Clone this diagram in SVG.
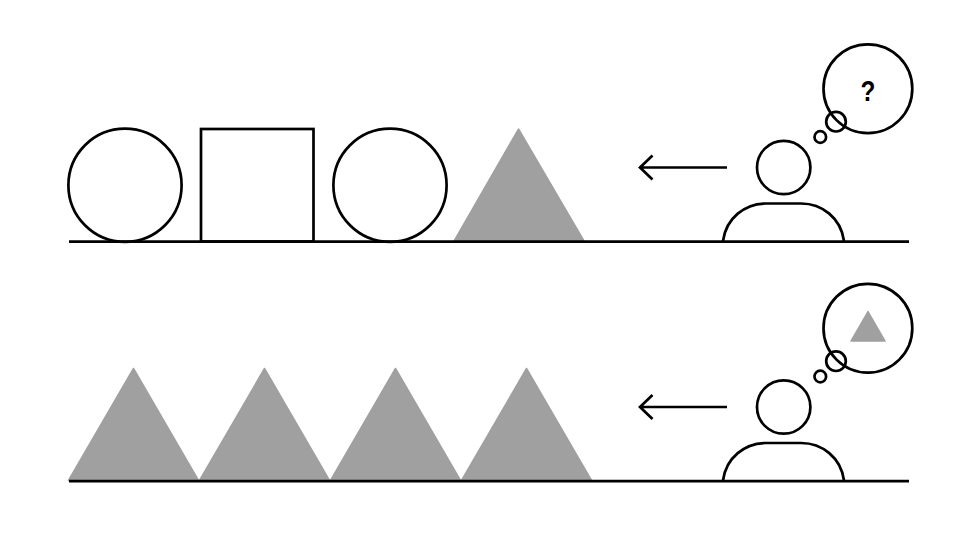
<svg xmlns="http://www.w3.org/2000/svg" width="978" height="558" viewBox="0 0 978 558">
<style>
.s{fill:none;stroke:#000;stroke-width:2.7}
.t{fill:#9fa09f;stroke:#9fa09f;stroke-width:1.5;stroke-linejoin:round}
.g{fill:none;stroke:#000;stroke-width:2.8}
.q{font-family:"Liberation Sans",Arial,sans-serif;font-weight:bold;font-size:29px;fill:#000;text-anchor:middle}
</style>
<defs>
<g id="person">
<circle class="s" cx="783.700" cy="167.500" r="26.700"/>
<path class="s" d="M723 241C726 218 745 203.500 766 203.500H801C822 203.500 841 218 844 241"/>
<circle class="s" cx="867.900" cy="88.700" r="44.400"/>
<circle class="s" cx="836" cy="121.700" r="9.800"/>
<circle class="s" cx="820.300" cy="137" r="5.800"/>
</g>
<g id="arrow">
<path class="s" d="M727 167.500H640M652.500 155.500L640 167.500L652.500 179.500"/>
</g>
</defs>
<g id="row1-circle1"><circle class="s" cx="125" cy="185.200" r="56.600"/></g>
<g id="row1-square"><rect class="s" x="201" y="129" width="112.500" height="112.500"/></g>
<g id="row1-circle2"><circle class="s" cx="390" cy="185.200" r="56.600"/></g>
<g id="row1-triangle"><path class="t" d="M518.500 129L584 241H454Z"/></g>
<g id="row1-person"><use href="#person"/><text class="q" transform="translate(868 101) scale(.84 1)">?</text></g>
<g id="row2-triangle1"><path class="t" d="M133.500 368.500L198.500 480.500H68.500Z"/></g>
<g id="row2-triangle2"><path class="t" d="M264.500 368.500L329.500 480.500H199.500Z"/></g>
<g id="row2-triangle3"><path class="t" d="M395.500 368.500L460.500 480.500H330.500Z"/></g>
<g id="row2-triangle4"><path class="t" d="M526.500 368.500L591.500 480.500H461.500Z"/></g>
<g id="row2-person"><use href="#person" y="239.500"/><path class="t" d="M868 311.500L885 341H851Z"/></g>
<g id="connectors">
<path class="g" d="M69 241.700H909"/>
<path class="g" d="M69 481.200H909"/>
<use href="#arrow"/>
<use href="#arrow" y="239.500"/>
</g>
</svg>
